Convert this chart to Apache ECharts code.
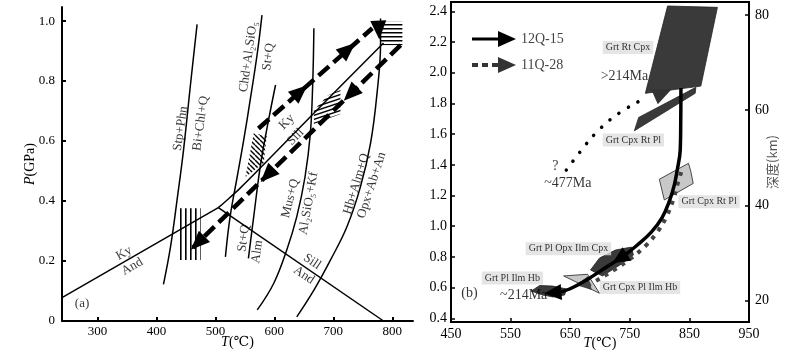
<!DOCTYPE html>
<html>
<head>
<meta charset="utf-8">
<script src="https://cdn.jsdelivr.net/npm/echarts@6/dist/echarts.min.js"></script>
<style>
html, body { margin: 0; padding: 0; background: #fff; }
#chart { width: 800px; height: 350px; }
</style>
</head>
<body>
<div id="chart"></div>
<script>
// ---------- panel (a) : reaction curves, points are [T (°C), P (GPa)]
var kyAnd = [[240, 0.078], [505, 0.378]];
var kySill = [[505, 0.378], [522, 0.407], [542, 0.443], [576, 0.51], [664, 0.687], [785, 0.927]];
var sillAnd = [[505, 0.378], [785, 0]];
var stpPhn = [[412, 0.122], [424, 0.248], [435, 0.403], [446, 0.57], [458, 0.792], [469, 0.989]];
var chdSt = [[517, 0.214], [525, 0.348], [537, 0.481], [548, 0.603], [559, 0.737], [571, 0.892], [579, 1.02]];
var stAlm = [[556, 0.209], [565, 0.348], [576, 0.514], [588, 0.648], [602, 0.787]];
var musKf = [[571, 0.037], [599, 0.126], [621, 0.237], [638, 0.348], [652, 0.481], [661, 0.626], [665, 0.792], [667, 0.976]];
var hbOpx = [[638, 0.014], [667, 0.103], [695, 0.203], [723, 0.314], [746, 0.448], [763, 0.592], [774, 0.759], [780, 0.926], [780, 1.009]];
var progradeA = [[573, 0.642], [766, 0.976]];
var retrogradeA = [[814, 0.92], [462, 0.245]];
// arrow heads: [T, P, T toward, P toward]
var arrowsA = [[644, 0.765, 700, 0.862], [725, 0.906, 780, 1.0], [777, 0.97, 779, 0.9],
               [729, 0.757, 700, 0.7], [588, 0.486, 560, 0.43], [470, 0.26, 455, 0.231]];
// hatched fields
var hatchVert = [[435, 0.203], [475, 0.203], [475, 0.376], [435, 0.376]];
var hatchDiag = [[565, 0.626], [587, 0.617], [582, 0.527], [551, 0.48]];
var hatchTilt = [[667, 0.657], [667, 0.703], [691, 0.753], [712, 0.77], [712, 0.69]];
var hatchTop = [[779, 0.92], [817, 0.92], [817, 0.998], [779, 0.998]];
// text labels: [T, P, text]
var labelsA = [
  [441, 0.642, 'Stp+Phn'], [475, 0.659, 'Bi+Chl+Q'],
  [556, 0.881, 'Chd+Al\u2082SiO\u2085'], [590, 0.881, 'St+Q'],
  [621, 0.664, 'Ky'], [636, 0.614, 'Sill'],
  [627, 0.409, 'Mus+Q'], [658, 0.392, 'Al\u2082SiO\u2085+Kf'],
  [739, 0.457, 'Hb+Alm+Q'], [765, 0.453, 'Opx+Ab+An'],
  [548, 0.276, 'St+Q'], [571, 0.231, 'Alm'],
  [345, 0.226, 'Ky'], [359, 0.181, 'And'],
  [664, 0.198, 'Sill'], [650, 0.153, 'And'],
  [274, 0.059, '(a)']
];
var angleA = [82, 82, 82, 82, 45, 45, 76, 80, 73, 72, 82, 82, 30, 30, -34, -34, 0];
var tempTicksA = [300, 400, 500, 600, 700, 800];
var presTicksA = [0, 0.2, 0.4, 0.6, 0.8, 1.0];

// ---------- panel (b)
var path12 = [[835.8, 1.9], [835.5, 1.7], [834.6, 1.496], [829.6, 1.366], [824.6, 1.268], [817.1, 1.171],
              [803.7, 1.053], [786.1, 0.962], [762.7, 0.878], [739.3, 0.806], [710.9, 0.734],
              [677.4, 0.65], [649, 0.591], [628, 0.567]];
var path11Dots = [[643.5, 1.366], [685.3, 1.575], [717.6, 1.696], [756.5, 1.796], [777.3, 1.833]];
var path11Dash = [[836.3, 1.353], [829.6, 1.268], [822.9, 1.171], [811.2, 1.06], [796.2, 0.962],
                  [776.1, 0.871], [752.7, 0.793], [725.9, 0.721], [695.8, 0.65], [674.1, 0.604]];
var arrows12 = [[733, 0.79, 710, 0.734], [621, 0.567, 600, 0.56]];
var arrows11 = [[806, 1.868, 830, 1.91]];
var fieldsDark = [
  [[813.4, 2.435], [897, 2.426], [869.2, 1.913], [776.1, 1.866]],
  [[757.7, 1.622], [764.9, 1.709], [860.9, 1.905], [859.7, 1.866]],
  [[684.1, 0.715], [699.2, 0.793], [725.9, 0.845], [752.7, 0.864], [756, 0.812], [736, 0.754], [704.2, 0.676]],
  [[584.9, 0.578], [598.8, 0.614], [620.6, 0.61], [644, 0.591], [640.6, 0.552], [620.6, 0.539], [598.8, 0.558]]
];
var fieldsLight = [
  [[799.5, 1.306], [848.5, 1.41], [852.5, 1.355], [856.4, 1.279], [807.9, 1.171]],
  [[639, 0.676], [679.1, 0.687], [699.2, 0.563]]
];
var fieldCore = [[[661.2, 0.617], [679.6, 0.671], [685.3, 0.589]]];
var assemblages = [
  [747, 2.164, 'Grt Rt Cpx'], [756, 1.562, 'Grt Cpx Rt Pl'], [883, 1.16, 'Grt Cpx Rt Pl'],
  [647, 0.853, 'Grt Pl Opx Ilm Cpx'], [553, 0.663, 'Grt Pl Ilm Hb'], [767, 0.6, 'Grt Cpx Pl Ilm Hb']
];
var agesB = [[741, 1.979, '>214Ma'], [646, 1.28, '~477Ma'], [572, 0.552, '~214Ma'], [625, 1.392, '?'], [481, 0.563, '(b)']];
var tempTicksB = [450, 550, 650, 750, 850, 950];
var presTicksB = [0.4, 0.6, 0.8, 1.0, 1.2, 1.4, 1.6, 1.8, 2.0, 2.2, 2.4];
var depthTicks = [20, 40, 60, 80];

var serif = '"Liberation Serif", "DejaVu Serif", serif';

function pattern(kind) {
  var c = document.createElement('canvas');
  var w = kind === 'tilt' ? 12 : (kind === 'horiz' ? 4 : 5);
  var h = kind === 'tilt' ? 4 : (kind === 'horiz' ? 4 : 5);
  c.width = w; c.height = h;
  var g = c.getContext('2d');
  g.fillStyle = '#fff'; g.fillRect(0, 0, w, h);
  g.fillStyle = '#000'; g.strokeStyle = '#000'; g.lineWidth = 1.4;
  if (kind === 'vert') g.fillRect(0, 0, 1.6, h);
  if (kind === 'horiz') g.fillRect(0, 0, w, 1.5);
  if (kind === 'diag') {
    [-5, 0, 5].forEach(function (k) { g.beginPath(); g.moveTo(k, 0); g.lineTo(k + 5, 5); g.stroke(); });
  }
  if (kind === 'tilt') {
    [-4, 0, 4].forEach(function (k) { g.beginPath(); g.moveTo(0, 4 + k); g.lineTo(12, k); g.stroke(); });
  }
  return { image: c, repeat: 'repeat' };
}

function lineSeries(pts, xi, smooth, style, name) {
  return {
    type: 'line', name: name, xAxisIndex: xi, yAxisIndex: xi, data: pts, smooth: smooth,
    symbol: 'none', z: 3, silent: true, lineStyle: style, color: style.color
  };
}

function polySeries(polys, xi, style, z) {
  return {
    type: 'custom', xAxisIndex: xi, yAxisIndex: xi, z: z || 1, silent: true,
    encode: { x: 0, y: 1 },
    data: polys.map(function (p, i) { return [p[0][0], p[0][1], i]; }),
    renderItem: function (params, api) {
      var p = polys[api.value(2)];
      return {
        type: 'polygon',
        shape: { points: p.map(function (v) { return api.coord(v); }) },
        style: style
      };
    }
  };
}

function arrowSeries(list, xi, color, len, half) {
  return {
    type: 'custom', xAxisIndex: xi, yAxisIndex: xi, z: 5, silent: true,
    encode: { x: [0, 2], y: [1, 3] },
    data: list,
    renderItem: function (params, api) {
      var a = api.coord([api.value(0), api.value(1)]);
      var b = api.coord([api.value(2), api.value(3)]);
      var dx = b[0] - a[0], dy = b[1] - a[1], d = Math.sqrt(dx * dx + dy * dy);
      dx /= d; dy /= d;
      var tip = [a[0] + dx * len / 2, a[1] + dy * len / 2];
      var bx = a[0] - dx * len / 2, by = a[1] - dy * len / 2;
      return {
        type: 'polygon',
        shape: { points: [tip, [bx - dy * half, by + dx * half], [bx + dy * half, by - dx * half]] },
        style: { fill: color }
      };
    }
  };
}

function textSeries(list, angles, xi, label) {
  return {
    type: 'scatter', xAxisIndex: xi, yAxisIndex: xi, symbolSize: 0, z: 6, silent: true,
    data: list.map(function (l, i) {
      return { value: [l[0], l[1]], label: { formatter: l[2], rotate: angles ? angles[i] : 0 } };
    }),
    label: Object.assign({ show: true, position: 'inside', color: '#000', fontFamily: serif }, label)
  };
}

var blackLine = { color: '#000', width: 1.5 };
var axisText = { fontFamily: serif, fontSize: 14, color: '#000' };
var nameStyle = { fontFamily: serif, fontSize: 14, color: '#000', rich: { i: { fontFamily: serif, fontSize: 14, fontStyle: 'italic' } } };

var chart = echarts.init(document.getElementById('chart'));
var option = {
  animation: false,
  backgroundColor: '#fff',
  legend: {
    left: 467, top: 26, orient: 'vertical', itemWidth: 44, itemHeight: 16, itemGap: 10,
    selectedMode: false,
    textStyle: { fontFamily: serif, fontSize: 14, color: '#444' },
    data: [
      { name: '12Q-15', icon: 'path://M0,6.5H26V0L44,8L26,16V9.5H0Z', itemStyle: { color: '#000' } },
      { name: '11Q-28', icon: 'path://M0,6H6V10H0Z M10,6H16V10H10Z M20,6H26V10H20Z M26,0L44,8L26,16Z', itemStyle: { color: '#333' } }
    ]
  },
  grid: [
    { left: 62, top: 7, width: 351, height: 314, outerBoundsMode: 'none' },
    { left: 451, top: 2, width: 298, height: 320, outerBoundsMode: 'none', show: true, borderColor: '#000', borderWidth: 2 }
  ],
  xAxis: [
    {
      gridIndex: 0, type: 'value', min: 240, max: 835,
      name: '{i|T}(\u2103)', nameLocation: 'middle', nameGap: 14, nameMoveOverlap: false, nameTextStyle: nameStyle,
      axisLine: { lineStyle: { color: '#000', width: 2 } },
      axisTick: { inside: true, length: 4, lineStyle: { color: '#000', width: 2 }, customValues: tempTicksA },
      axisLabel: { customValues: tempTicksA, margin: 4, fontSize: 13, fontFamily: serif, color: '#000' },
      splitLine: { show: false }
    },
    {
      gridIndex: 1, type: 'value', min: 450, max: 950,
      name: '{i|T}(\u2103)', nameLocation: 'middle', nameGap: 14, nameMoveOverlap: false, nameTextStyle: nameStyle,
      axisLine: { lineStyle: { color: '#000', width: 2 } },
      axisTick: { inside: true, length: 4, lineStyle: { color: '#000', width: 1.5 }, customValues: [550, 650, 750, 850] },
      axisLabel: Object.assign({ customValues: tempTicksB, margin: 5 }, axisText),
      splitLine: { show: false }
    }
  ],
  yAxis: [
    {
      gridIndex: 0, type: 'value', min: 0, max: 1.047,
      name: '{i|P}(GPa)', nameLocation: 'middle', nameGap: 25, nameRotate: 90, nameMoveOverlap: false, nameTextStyle: nameStyle,
      axisLine: { lineStyle: { color: '#000', width: 2 } },
      axisTick: { inside: true, length: 4, lineStyle: { color: '#000', width: 2 }, customValues: presTicksA },
      axisLabel: {
        customValues: presTicksA, margin: 7, fontFamily: serif, fontSize: 13, color: '#000',
        formatter: function (v) { return v === 0 ? '0' : v.toFixed(1); }
      },
      splitLine: { show: false }
    },
    {
      gridIndex: 1, type: 'value', min: 0.376, max: 2.461,
      axisLine: { lineStyle: { color: '#000', width: 2 } },
      axisTick: { inside: true, length: 4, lineStyle: { color: '#000', width: 1.5 }, customValues: presTicksB },
      axisLabel: Object.assign({ customValues: presTicksB, margin: 4, formatter: function (v) { return v.toFixed(1); } }, axisText),
      splitLine: { show: false }
    },
    {
      gridIndex: 1, type: 'value', position: 'right', min: 15.5, max: 82.7,
      name: '\u6df1\u5ea6(km)', nameLocation: 'middle', nameGap: 17, nameRotate: 90, nameMoveOverlap: false,
      nameTextStyle: { fontFamily: '"Noto Sans CJK SC", sans-serif', fontSize: 13, color: '#555' },
      axisLine: { lineStyle: { color: '#000', width: 2 } },
      axisTick: { inside: true, length: 4, lineStyle: { color: '#000', width: 1.5 }, customValues: depthTicks },
      axisLabel: Object.assign({ customValues: depthTicks, margin: 6 }, axisText),
      splitLine: { show: false }
    }
  ],
  series: [
    // panel (a)
    polySeries([hatchVert], 0, { fill: pattern('vert') }),
    polySeries([hatchDiag], 0, { fill: pattern('diag') }),
    polySeries([hatchTilt], 0, { fill: pattern('tilt') }),
    polySeries([hatchTop], 0, { fill: pattern('horiz') }),
    lineSeries(kyAnd, 0, false, blackLine),
    lineSeries(kySill, 0, 0.3, blackLine),
    lineSeries(sillAnd, 0, false, blackLine),
    lineSeries(stpPhn, 0, 0.4, blackLine),
    lineSeries(chdSt, 0, 0.4, blackLine),
    lineSeries(stAlm, 0, 0.4, blackLine),
    lineSeries(musKf, 0, 0.4, blackLine),
    lineSeries(hbOpx, 0, 0.4, blackLine),
    lineSeries(progradeA, 0, false, { color: '#000', width: 4.5, type: [14, 6] }),
    lineSeries(retrogradeA, 0, false, { color: '#000', width: 4.5, type: [14, 6] }),
    arrowSeries(arrowsA, 0, '#000', 19, 8),
    textSeries(labelsA, angleA, 0, { fontSize: 13 }),
    // panel (b)
    polySeries(fieldsDark, 1, { fill: '#3a3a3a', stroke: '#222', lineWidth: 0.8 }),
    polySeries(fieldsLight, 1, { fill: '#c8c8c8', stroke: '#222', lineWidth: 0.8 }, 2),
    polySeries(fieldCore, 1, { fill: '#444', stroke: '#222', lineWidth: 0.6 }, 2),
    lineSeries(path11Dash, 1, 0.4, { color: '#444', width: 4, type: [4, 6] }, '11Q-28'),
    lineSeries(path11Dots, 1, 0.3, { color: '#000', width: 3.5, type: [0.1, 11], cap: 'round' }, '11Q-28'),
    lineSeries(path12, 1, 0.4, { color: '#000', width: 3.5 }, '12Q-15'),
    arrowSeries(arrows12, 1, '#000', 17, 8),
    arrowSeries(arrows11, 1, '#333', 19, 8),
    textSeries(assemblages, null, 1, {
      fontSize: 10, backgroundColor: '#dedede', padding: [2, 3, 1, 3]
    }),
    textSeries(agesB, null, 1, { fontSize: 14 })
  ]
};
chart.setOption(option);
</script>
</body>
</html>
